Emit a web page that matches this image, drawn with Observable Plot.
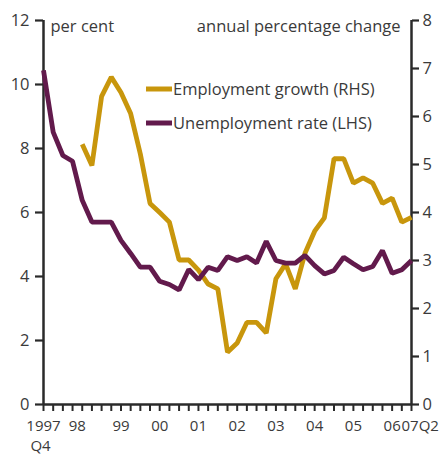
<!DOCTYPE html>
<html>
<head>
<meta charset="utf-8">
<script src="https://cdn.jsdelivr.net/npm/d3@7"></script>
<script src="https://cdn.jsdelivr.net/npm/@observablehq/plot@0.6"></script>
<style>
  html, body { margin: 0; padding: 0; background: #fff; }
  #chart { width: 446px; height: 454px; }
</style>
</head>
<body>
<div id="chart"></div>
<script>
// Quarters, 1997Q4 to 2007Q2
const quarters = [
  "1997Q4",
  "1998Q1","1998Q2","1998Q3","1998Q4",
  "1999Q1","1999Q2","1999Q3","1999Q4",
  "2000Q1","2000Q2","2000Q3","2000Q4",
  "2001Q1","2001Q2","2001Q3","2001Q4",
  "2002Q1","2002Q2","2002Q3","2002Q4",
  "2003Q1","2003Q2","2003Q3","2003Q4",
  "2004Q1","2004Q2","2004Q3","2004Q4",
  "2005Q1","2005Q2","2005Q3","2005Q4",
  "2006Q1","2006Q2","2006Q3","2006Q4",
  "2007Q1","2007Q2"
];

// Unemployment rate, per cent (LHS)
const unemploymentRate = [
  10.44, 8.51, 7.78, 7.6, 6.38, 5.7, 5.7, 5.7, 5.13, 4.72,
  4.29, 4.29, 3.85, 3.75, 3.58, 4.22, 3.9, 4.29, 4.19, 4.62,
  4.5, 4.62, 4.42, 5.1, 4.5, 4.42, 4.42, 4.66, 4.34, 4.08,
  4.19, 4.6, 4.4, 4.21, 4.31, 4.81, 4.1, 4.21, 4.5
];

// Employment growth, annual percentage change (RHS)
const employmentGrowth = [
  null, null, null, null,
  5.42, 4.98, 6.42, 6.82, 6.5, 6.06, 5.22, 4.19, 4.0, 3.8,
  3.01, 3.01, 2.8, 2.51, 2.41, 1.09, 1.28, 1.71, 1.71, 1.49,
  2.62, 2.93, 2.41, 3.15, 3.61, 3.89, 5.12, 5.12, 4.61, 4.72,
  4.61, 4.19, 4.3, 3.8, 3.9
];

const leftTicks = [0, 2, 4, 6, 8, 10, 12];
const rightTicks = [0, 1, 2, 3, 4, 5, 6, 7, 8];

const firstLabel = {q: "1997Q4", label: "1997"};
const firstLabelSub = {q: "1997Q4", label: "Q4"};
const secondLabel = {q: "1998Q4", label: "98"};
const xTickLabels = [
  {q: "1999Q4", label: "99"},
  {q: "2000Q4", label: "00"},
  {q: "2001Q4", label: "01"},
  {q: "2002Q4", label: "02"},
  {q: "2003Q4", label: "03"},
  {q: "2004Q4", label: "04"},
  {q: "2005Q4", label: "05"},
  {q: "2006Q4", label: "06"}
];
const lastLabel = {q: "2007Q2", label: "07Q2"};

const seriesNames = ["Employment growth (RHS)", "Unemployment rate (LHS)"];
const GOLD = "#C8960C";
const PURPLE = "#621A4C";
const INK = "#2a2a2a";
const TEXT = "#3a3a3a";
const FONT = "'Open Sans', Lato, sans-serif";
const FS = 16.5;
const XFS = 15;

// Scale between the two axes: RHS 0..8 maps onto LHS 0..12
const k = 12 / 8;
const qi = q => quarters.indexOf(q);

const unemp = quarters.map((q, i) => ({i, q, v: unemploymentRate[i]}));
const emp = quarters.map((q, i) => ({i, q, v: employmentGrowth[i] == null ? null : employmentGrowth[i] * k}));

function legend(index, scales, values, dims) {
  const g = d3.create("svg:g")
    .attr("font-family", FONT)
    .attr("font-size", FS)
    .attr("fill", TEXT)
    .attr("text-anchor", "start");
  const items = [
    {name: seriesNames[0], color: GOLD, y: 89},
    {name: seriesNames[1], color: PURPLE, y: 123}
  ];
  for (const it of items) {
    g.append("line")
      .attr("x1", 146).attr("x2", 172)
      .attr("y1", it.y).attr("y2", it.y)
      .attr("stroke", it.color).attr("stroke-width", 5);
    g.append("text")
      .attr("x", 173).attr("y", it.y)
      .attr("dy", "0.35em")
      .text(it.name);
  }
  return g.node();
}

const labelOpts = {x: d => qi(d.q), y: 0, text: "label", lineAnchor: "top", fontSize: XFS, fill: TEXT};

const chart = Plot.plot({
  width: 446,
  height: 454,
  marginLeft: 43,
  marginRight: 35,
  marginTop: 20,
  marginBottom: 50,
  x: {domain: [0, quarters.length - 1]},
  y: {domain: [0, 12]},
  style: {
    fontFamily: FONT,
    fontSize: FS + "px",
    color: TEXT,
    background: "#fff"
  },
  marks: [
    Plot.axisY({
      anchor: "left", ticks: leftTicks, tickSize: 8, tickPadding: 6,
      stroke: INK, strokeWidth: 2.2, label: null, fontSize: FS, fill: TEXT
    }),
    Plot.axisY({
      anchor: "right", ticks: rightTicks.map(v => v * k), tickFormat: d => Math.round(d / k),
      tickSize: 7, tickPadding: 4, stroke: INK, strokeWidth: 2.2, label: null, fontSize: FS, fill: TEXT
    }),
    Plot.axisX({
      ticks: d3.range(quarters.length), tickSize: 7, tickFormat: () => "",
      stroke: INK, strokeWidth: 2, label: null
    }),
    Plot.ruleX([0, quarters.length - 1], {stroke: INK, strokeWidth: 2.5}),
    Plot.ruleY([0], {stroke: INK, strokeWidth: 2.5}),
    Plot.text([firstLabel], {...labelOpts, dy: 15.5}),
    Plot.text([firstLabelSub], {...labelOpts, dy: 36, dx: -3}),
    Plot.text([secondLabel], {...labelOpts, dy: 15.5, dx: -5}),
    Plot.text(xTickLabels, {...labelOpts, dy: 15.5}),
    Plot.text([lastLabel], {...labelOpts, dy: 15.5, dx: -10, textAnchor: "start"}),
    Plot.text(["per cent"], {frameAnchor: "top-left", dx: 7, dy: 0, fontSize: FS, fill: TEXT}),
    Plot.text(["annual percentage change"], {frameAnchor: "top-right", dx: -11, dy: 0, fontSize: FS, fill: TEXT}),
    Plot.line(emp, {x: "i", y: "v", stroke: GOLD, strokeWidth: 4.8, strokeLinejoin: "miter", strokeLinecap: "butt"}),
    Plot.line(unemp, {x: "i", y: "v", stroke: PURPLE, strokeWidth: 4.8, strokeLinejoin: "miter", strokeLinecap: "butt"}),
    legend
  ]
});

document.getElementById("chart").appendChild(chart);
</script>
</body>
</html>
